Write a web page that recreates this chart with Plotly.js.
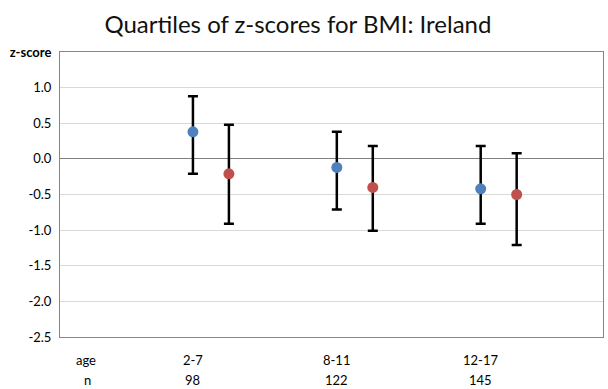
<!DOCTYPE html>
<html><head><meta charset="utf-8">
<script src="https://cdn.plot.ly/plotly-3.0.1.min.js"></script>
<style>body{margin:0;background:#fff}#c{width:608px;height:389px}</style>
</head><body><div id="c"></div>
<script>
const ages = ["2-7", "8-11", "12-17"];
const ns = ["98", "122", "145"];
const groupPos = [1, 2, 3];
const blueMedian = [0.38, -0.12, -0.42];
const blueQ1 = [-0.21, -0.71, -0.91];
const blueQ3 = [0.88, 0.38, 0.18];
const redMedian = [-0.21, -0.40, -0.50];
const redQ1 = [-0.91, -1.01, -1.21];
const redQ3 = [0.48, 0.18, 0.08];
const yTicks = [-2.5, -2.0, -1.5, -1.0, -0.5, 0.0, 0.5, 1.0, 1.5];

const offset = 0.25;
function mk(med, q1, q3, color, dx) {
  return {
    type: 'scatter', mode: 'markers',
    x: groupPos.map(p => p + dx), y: med,
    marker: {color: color, size: 11},
    error_y: {type: 'data', symmetric: false,
      array: q3.map((v, i) => v - med[i]),
      arrayminus: med.map((v, i) => v - q1[i]),
      color: '#000', thickness: 2.5, width: 5},
    showlegend: false, hoverinfo: 'skip'
  };
}
const data = [mk(blueMedian, blueQ1, blueQ3, '#4f81bd', 0), mk(redMedian, redQ1, redQ3, '#c0504d', offset)];
const font = "Lato, 'Open Sans', sans-serif";
const rowAge = -0.0807, rowN = -0.151;
const fs = 13;
const annotations = [
  {text: 'age', xref: 'x', yref: 'paper', x: 0.26, y: rowAge, xanchor: 'center', yanchor: 'middle', showarrow: false, font: {size: fs}},
  {text: 'n', xref: 'x', yref: 'paper', x: 0.27, y: rowN, xanchor: 'center', yanchor: 'middle', showarrow: false, font: {size: fs}}
];
groupPos.forEach((p, i) => {
  annotations.push({text: ages[i], xref: 'x', yref: 'paper', x: p, y: rowAge, xanchor: 'center', yanchor: 'middle', showarrow: false, font: {size: fs}});
  annotations.push({text: ns[i], xref: 'x', yref: 'paper', x: p, y: rowN, xanchor: 'center', yanchor: 'middle', showarrow: false, font: {size: fs}});
});
const layout = {
  width: 608, height: 389,
  margin: {l: 60, r: 5, t: 52, b: 52},
  paper_bgcolor: '#fff', plot_bgcolor: '#fff',
  font: {family: font, size: fs, color: '#000'},
  title: {text: 'Quartiles of z-scores for BMI: Ireland', x: 0.49, xanchor: 'center', y: 0.938, yanchor: 'middle', font: {family: font, size: 24, color: '#111'}},
  xaxis: {range: [0.076, 3.85], showticklabels: false,
    showgrid: false, zeroline: false, showline: true, linecolor: '#868686', linewidth: 1, mirror: true,
    ticks: '', fixedrange: true},
  yaxis: {range: [-2.5, 1.5], tickvals: yTicks,
    ticktext: yTicks.map(v => v === 1.5 ? '<b>z-score</b>' : v.toFixed(1)),
    showgrid: true, gridcolor: '#d9d9d9', gridwidth: 1,
    zeroline: true, zerolinecolor: '#808080', zerolinewidth: 1,
    showline: true, linecolor: '#868686', linewidth: 1, mirror: true,
    ticks: '', ticklabelstandoff: 5, tickfont: {size: fs}, fixedrange: true},
  annotations: annotations
};
Plotly.newPlot('c', data, layout, {displayModeBar: false, staticPlot: true});
</script></body></html>
